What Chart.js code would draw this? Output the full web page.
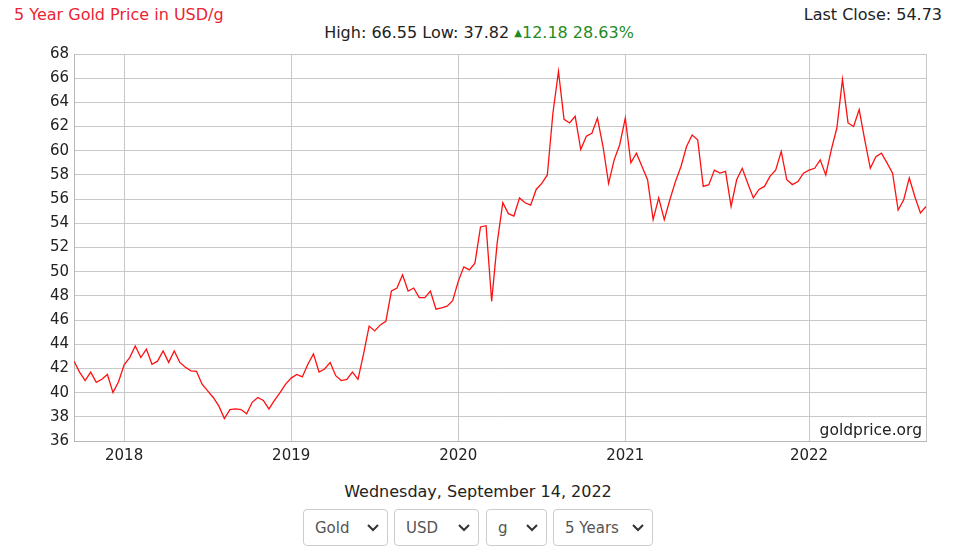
<!DOCTYPE html>
<html>
<head>
<meta charset="utf-8">
<script src="https://cdn.jsdelivr.net/npm/chart.js@4.4.1/dist/chart.umd.min.js"></script>
<style>
    body { margin: 0; background: #fff; font-family: "DejaVu Sans", Verdana, sans-serif; }
    #page { position: relative; width: 973px; height: 551px; overflow: hidden; }
    .title { position: absolute; left: 14px; top: 5px; font-size: 16px; color: #ec2433; }
    .last { position: absolute; right: 31px; top: 5px; font-size: 16px; color: #222; }
    .stats { position: absolute; left: 0; width: 958px; top: 23px; text-align: center; font-size: 16px; color: #222; }
    .stats .up { color: #1f8b1f; }
    .stats .tri { font-size: 10px; vertical-align: 2px; }
    #wrap { position: absolute; left: 0; top: 40px; width: 940px; height: 430px; }
    .brand { position: absolute; right: 51px; top: 421px; font-size: 15.5px; color: #222; }
    .date { position: absolute; left: 0; width: 956px; top: 482px; text-align: center; font-size: 16px; color: #222; }
    .sel { position: absolute; top: 509px; height: 37px; box-sizing: border-box; border: 1px solid #ccc; border-radius: 4px;
           font-family: "DejaVu Sans", Verdana, sans-serif; font-size: 15px; color: #555; background: #fff; padding: 0 0 0 11px;
           -webkit-appearance: none; appearance: none;
           background-image: url("data:image/svg+xml,%3Csvg xmlns='http://www.w3.org/2000/svg' width='12' height='8'%3E%3Cpath d='M1 1l5 5 5-5' fill='none' stroke='%23333' stroke-width='2'/%3E%3C/svg%3E");
           background-repeat: no-repeat; background-position: right 8px center; }
</style>
</head>
<body>
<div id="page">
    <div class="title">5 Year Gold Price in USD/g</div>
    <div class="last">Last Close: 54.73</div>
    <div class="stats">High: 66.55 Low: 37.82 <span class="up"><span class="tri">&#9650;</span>12.18 28.63%</span></div>
    <div id="wrap"><canvas id="goldChart"></canvas></div>
    <div class="brand">goldprice.org</div>
    <div class="date">Wednesday, September 14, 2022</div>
    <select class="sel" style="left:303px;width:85px"><option>Gold</option></select>
    <select class="sel" style="left:394px;width:85px"><option>USD</option></select>
    <select class="sel" style="left:486px;width:61px"><option>g</option></select>
    <select class="sel" style="left:553px;width:100px"><option>5 Years</option></select>
</div>
<script>
// roughly every ~12 days, Sep 2017 .. Sep 2022
const priceValues = [
    42.6, 41.7, 41.0, 41.7, 40.85, 41.1, 41.5, 40.0, 40.9,
    42.3, 42.9, 43.85, 42.9, 43.6, 42.35, 42.6, 43.45, 42.5, 43.45,
    42.5, 42.1, 41.8, 41.75, 40.7, 40.15, 39.6, 38.9, 37.85, 38.6,
    38.65, 38.6, 38.25, 39.2, 39.6, 39.35, 38.65, 39.35, 40.0, 40.7,
    41.2, 41.5, 41.3, 42.35, 43.2, 41.7, 41.95, 42.5, 41.4, 41.0,
    41.1, 41.7, 41.1, 43.2, 45.5, 45.1, 45.6, 45.9, 48.4, 48.65,
    49.75, 48.4, 48.65, 47.85, 47.85, 48.4, 46.9, 47.0, 47.15, 47.6,
    49.2, 50.4, 50.15, 50.7, 53.7, 53.8, 47.55, 52.4, 55.7, 54.8,
    54.6, 56.1, 55.7, 55.5, 56.8, 57.3, 58.0, 63.1, 66.55, 62.6,
    62.3, 62.85, 60.1, 61.2, 61.45, 62.7, 60.35, 57.3, 59.25, 60.5,
    62.7, 59.0, 59.8, 58.7, 57.6, 54.3, 56.1, 54.3, 55.95, 57.45,
    58.7, 60.35, 61.3, 60.9, 57.05, 57.2, 58.4, 58.15, 58.3, 55.4,
    57.6, 58.55, 57.3, 56.1, 56.8, 57.05, 57.9, 58.4, 59.95, 57.6,
    57.2, 57.45, 58.15, 58.4, 58.55, 59.25, 58.0, 60.1, 61.9, 65.9,
    62.3, 62.0, 63.4, 60.9, 58.55, 59.5, 59.8, 59.0, 58.15, 55.1,
    55.95, 57.75, 56.2, 54.85, 55.4
];
// index of the first point of each year
const yearTickIndex = [9, 39, 69, 99, 132];
const yearLabels = ['2018', '2019', '2020', '2021', '2022'];
const yMin = 36;
const yMax = 68;
const yStep = 2;

const lastIndex = priceValues.length - 1;
const points = priceValues.map((v, i) => ({ x: i, y: v }));
const tickFont = { family: '"DejaVu Sans", Verdana, sans-serif', size: 15 };

new Chart(document.getElementById('goldChart'), {
    type: 'line',
    data: {
        datasets: [{
            data: points,
            borderColor: '#ff1010',
            borderWidth: 1.3,
            pointRadius: 0,
            tension: 0,
            fill: false
        }]
    },
    options: {
        responsive: true,
        maintainAspectRatio: false,
        animation: false,
        layout: { padding: { top: 12, right: 14, left: 0, bottom: 0 } },
        plugins: {
            legend: { display: false },
            tooltip: { enabled: false }
        },
        scales: {
            x: {
                type: 'linear',
                min: 0,
                max: lastIndex,
                afterBuildTicks: (scale) => {
                    scale.ticks = [0, ...yearTickIndex, lastIndex].map(v => ({ value: v }));
                },
                afterFit: (scale) => { scale.height = 29; },
                ticks: {
                    autoSkip: false,
                    maxRotation: 0,
                    padding: 6,
                    color: '#222',
                    font: tickFont,
                    callback: (value) => {
                        const k = yearTickIndex.indexOf(value);
                        return k >= 0 ? yearLabels[k] : '';
                    }
                },
                grid: { color: '#c8c8c8', lineWidth: 1, drawTicks: false },
                border: { color: '#b8b8b8' }
            },
            y: {
                min: yMin,
                max: yMax,
                afterFit: (scale) => { scale.width = 74; },
                ticks: {
                    stepSize: yStep,
                    padding: 5,
                    color: '#222',
                    font: tickFont
                },
                grid: { color: '#c8c8c8', lineWidth: 1, drawTicks: false },
                border: { color: '#b8b8b8' }
            }
        }
    }
});
</script>
</body>
</html>
